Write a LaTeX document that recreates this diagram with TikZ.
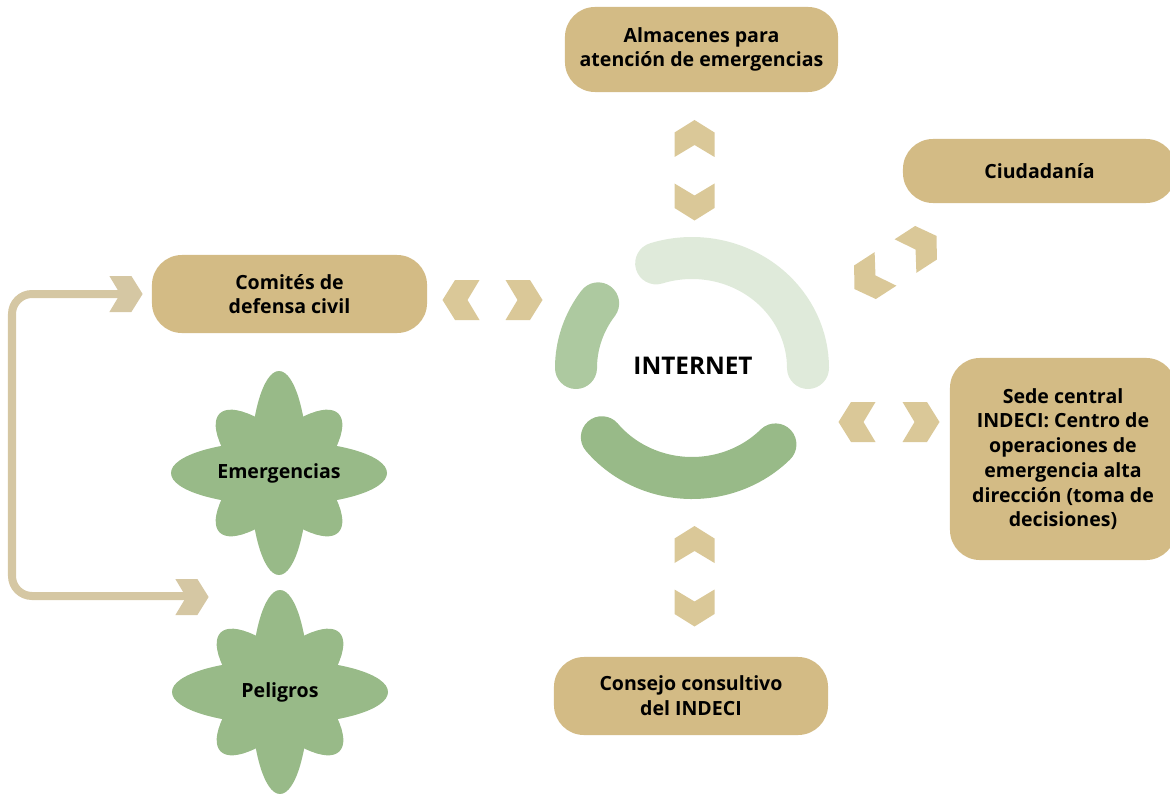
\documentclass[tikz,border=0pt]{standalone}
\usepackage{fontspec}
\setmainfont{Open Sans}
\usetikzlibrary{calc}
\usetikzlibrary{positioning}

\definecolor{caja}{HTML}{D3BB85}
\definecolor{flecha}{HTML}{DAC898}
\definecolor{linea}{HTML}{D5C7A3}
\definecolor{verde}{HTML}{98BA88}
\definecolor{verdemed}{HTML}{ADC9A0}
\definecolor{verdeclaro}{HTML}{DFEADA}

% chevron: [opciones]{centro}{giro}
\newcommand{\chevron}[3][]{%
  \fill[flecha,shift={(#2)},rotate=#3,#1] (-18.5,-20) -- (6,-20) -- (18.5,0) -- (6,20) -- (-18.5,20) -- (-6.5,0) -- cycle;}

% flor de ocho puntas: {nombre}{centro}{texto}
\newcommand{\estrella}[3]{%
  \begin{scope}[shift={(#2)}]
  \fill[verde] (0,0) ellipse [x radius=29,y radius=102];
  \fill[verde] (0,0) ellipse [x radius=108,y radius=32];
  \fill[verde,rotate=45] (0,0) ellipse [x radius=84,y radius=31];
  \fill[verde,rotate=-45] (0,0) ellipse [x radius=84,y radius=31];
  \fill[verde] (0,0) circle [radius=50];
  \end{scope}
  \node[texto] (#1) at (#2) {#3};}

\begin{document}
\begin{tikzpicture}[x=0.025cm,y=-0.025cm,
  texto/.style={font=\bfseries\fontsize{13.9}{17.6}\selectfont,align=center,inner sep=0pt},
  caja/.style={texto,fill=caja,rounded corners=0.75cm}]
\useasboundingbox (0,0) rectangle (1170,794);

\node[caja,minimum width=6.825cm,minimum height=2.125cm] (almacenes) at (701.5,49.5) {Almacenes para\\atención de emergencias};
\node[caja,minimum width=6.825cm,minimum height=1.6cm] (ciudadania) at (1039.5,171) {Ciudadanía};
\node[caja,minimum width=6.875cm,minimum height=1.95cm] (comites) at (289.5,294) {Comités de\\defensa civil};
\node[caja,minimum width=5.65cm,minimum height=5.05cm] (sede) at (1063,459) {Sede central\\INDECI: Centro de\\operaciones de\\emergencia alta\\dirección (toma de\\decisiones)};
\node[caja,minimum width=6.85cm,minimum height=1.95cm] (consejo) at (691,696) {Consejo consultivo\\del INDECI};

\coordinate (c) at (692,368);
\draw[verdeclaro,line width=1.05cm,line cap=round] (c) ++(-108:116 and 110) arc[start angle=-108,end angle=0,x radius=116,y radius=110];
\draw[verdemed,line width=1.05cm,line cap=round] (c) ++(-144:116 and 110) arc[start angle=-144,end angle=-180,x radius=116,y radius=110];
\draw[verde,line width=1.05cm,line cap=round] (c) ++(141:116 and 110) arc[start angle=141,end angle=44,x radius=116,y radius=110];
\node[font=\bfseries\fontsize{17.3}{20}\selectfont] (internet) at (693,366) {INTERNET};

\chevron{694.5,138.5}{90}
\chevron{694.5,202}{-90}
\chevron{461,300}{180}
\chevron{524,300}{0}
\chevron{857,422}{180}
\chevron{921,422}{0}
\chevron{870,279}{213}
\chevron{921,246}{33}
\chevron{694.5,544.5}{90}
\chevron{694.5,608}{-90}

\estrella{emergencias}{279,473}{Emergencias}
\estrella{peligros}{280,692}{Peligros}

\coordinate (abajo) at (186,596);
\coordinate (arriba) at (120,294);
\draw[linea,line width=0.2cm,rounded corners=0.5cm] (abajo) -- (12,596) -- (12,294) -- (arriba);
\chevron[linea,scale=0.9]{126,294}{0}
\chevron[linea,scale=0.9]{192,597}{0}

\end{tikzpicture}
\end{document}
